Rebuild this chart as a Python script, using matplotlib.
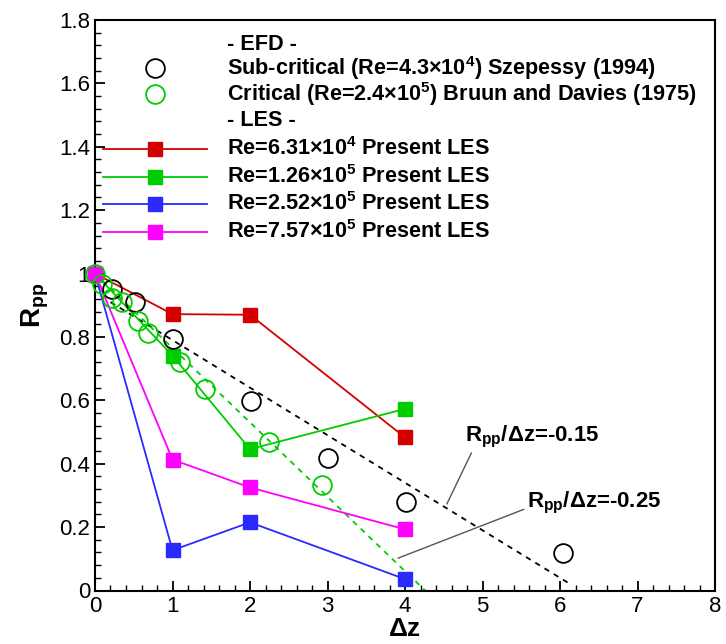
import matplotlib
matplotlib.use("Agg")
import matplotlib.pyplot as plt
from matplotlib.ticker import MultipleLocator

plt.rcParams['font.family'] = ['Liberation Sans', 'DejaVu Sans']
plt.rcParams['mathtext.fontset'] = 'custom'
plt.rcParams['mathtext.rm'] = 'Liberation Sans:bold'
plt.rcParams['mathtext.it'] = 'Liberation Sans:bold'
plt.rcParams['mathtext.bf'] = 'Liberation Sans:bold'

# --- experimental data (EFD) ---
szep_dz = [0.215, 0.51, 1.0, 2.01, 3.01, 4.01, 6.04]
szep_r = [0.951, 0.909, 0.794, 0.597, 0.418, 0.278, 0.117]

bruun_dz = [0.0, 0.09, 0.215, 0.345, 0.56, 0.69, 1.10, 1.42, 2.24, 2.93]
bruun_r = [1.0, 0.967, 0.924, 0.909, 0.851, 0.814, 0.72, 0.636, 0.469, 0.332]

# --- LES results ---
les_dz = [0, 1, 2, 4]
les_re631e4 = [1.0, 0.872, 0.87, 0.483]
les_re126e5 = [1.0, 0.741, 0.446, 0.573]
les_re252e5 = [1.0, 0.127, 0.215, 0.036]
les_re757e5 = [1.0, 0.413, 0.325, 0.193]

les_labels = [r"Re=6.31$\times$10$^{4}$ Present LES",
              r"Re=1.26$\times$10$^{5}$ Present LES",
              r"Re=2.52$\times$10$^{5}$ Present LES",
              r"Re=7.57$\times$10$^{5}$ Present LES"]
les_colors = ['#d40000', '#00cc00', '#2a2aff', '#ff00ff']

# --- reference slope lines ---
slope15_dz = [0.2, 6.15]
slope15_r = [0.91, 0.0175]
slope25_dz = [0.0, 4.26]
slope25_r = [1.0, 0.0]

xticks = [0, 1, 2, 3, 4, 5, 6, 7, 8]
yticks = [0, 0.2, 0.4, 0.6, 0.8, 1.0, 1.2, 1.4, 1.6, 1.8]
ytick_labels = ['0', '0.2', '0.4', '0.6', '0.8', '1', '1.2', '1.4', '1.6', '1.8']

W, H = 726, 644
fig = plt.figure(figsize=(W / 100, H / 100), dpi=100)
L, R, B, T = 95, 715, 590.5, 20
ax = fig.add_axes([L / W, 1 - B / H, (R - L) / W, (B - T) / H])


def px2ax(px, py):
    return (px - L) / (R - L), (B - py) / (B - T)


ax.set_xlim(0, 8)
ax.set_ylim(0, 1.8)

# slope lines
ax.plot(slope15_dz, slope15_r, color='black', ls=(0, (3, 3)), lw=1.3, zorder=2)
ax.plot(slope25_dz, slope25_r, color='#00cc00', ls=(0, (3, 3)), lw=1.3, zorder=2)

# LES curves
les_series = [les_re631e4, les_re126e5, les_re252e5, les_re757e5]
for vals, c in zip(les_series, les_colors):
    ax.plot(les_dz, vals, color=c, lw=1.3, marker='s', ms=9.5, mec=c, mfc=c, zorder=3,
            clip_on=False)

# EFD data
ax.plot(szep_dz, szep_r, ls='none', marker='o', ms=13.5, mfc='none', mec='black', mew=1.3,
        zorder=4, clip_on=False)
ax.plot(bruun_dz, bruun_r, ls='none', marker='o', ms=13.5, mfc='none', mec='#00cc00', mew=1.3,
        zorder=4, clip_on=False)

# annotations
ax.annotate(r"R$_{\mathrm{pp}}$/Δz=-0.15", xy=(4.54, 0.273), xytext=(4.77, 0.484),
            fontsize=16, fontweight='bold', va='center', ha='left',
            arrowprops=dict(arrowstyle='-', color='#555555', lw=1.0,
                            shrinkA=0, shrinkB=0, relpos=(0.06, 0.0)))
ax.annotate(r"R$_{\mathrm{pp}}$/Δz=-0.25", xy=(3.91, 0.102), xytext=(5.57, 0.276),
            fontsize=16, fontweight='bold', va='center', ha='left',
            arrowprops=dict(arrowstyle='-', color='#555555', lw=1.0,
                            shrinkA=0, shrinkB=0, relpos=(0.0, 0.3)))

# legend drawn in axes coordinates
text_x = 227
leg_fs = 15.6
rows = [45, 68, 94, 121, 149, 177, 204, 232]
entries = ["- EFD -",
           r"Sub-critical (Re=4.3$\times$10$^{4}$) Szepessy (1994)",
           r"Critical (Re=2.4$\times$10$^{5}$) Bruun and Davies (1975)",
           "- LES -"] + les_labels
for py, txt in zip(rows, entries):
    ax.text(*px2ax(text_x, py), txt, transform=ax.transAxes, fontsize=leg_fs,
            fontweight='bold', va='center', ha='left')
for py, c in zip(rows[1:3], ['black', '#00cc00']):
    ax.plot(*px2ax(155, py), transform=ax.transAxes, marker='o', ms=13.5, mfc='none',
            mec=c, mew=1.3, clip_on=False)
for py, c in zip(rows[4:], les_colors):
    x0, y0 = px2ax(103, py)
    x1, _ = px2ax(207, py)
    xm, _ = px2ax(155, py)
    ax.plot([x0, x1], [y0, y0], transform=ax.transAxes, color=c, lw=1.3)
    ax.plot([xm], [y0], transform=ax.transAxes, marker='s', ms=9.5, color=c)

# axes styling
ax.set_xticks(xticks)
ax.set_yticks(yticks)
ax.set_yticklabels(ytick_labels)
ax.xaxis.set_minor_locator(MultipleLocator(0.2))
ax.yaxis.set_minor_locator(MultipleLocator(0.04))
ax.tick_params(which='both', direction='in', top=False, right=False, labelsize=16)
ax.tick_params(which='major', length=7, width=1.3)
ax.tick_params(which='minor', length=4, width=1.0)
ax.tick_params(axis='x', pad=4)
for s in ax.spines.values():
    s.set_linewidth(1.5)

ax.set_xlabel("Δz", fontsize=19, fontweight='bold')
ax.xaxis.set_label_coords(0.5, (B - 629) / (B - T))
ax.xaxis.label.set_va('center')
ax.set_ylabel(r"R$_{\mathrm{pp}}$", fontsize=20, fontweight='bold', labelpad=6)

fig.savefig("out.png", dpi=100)
